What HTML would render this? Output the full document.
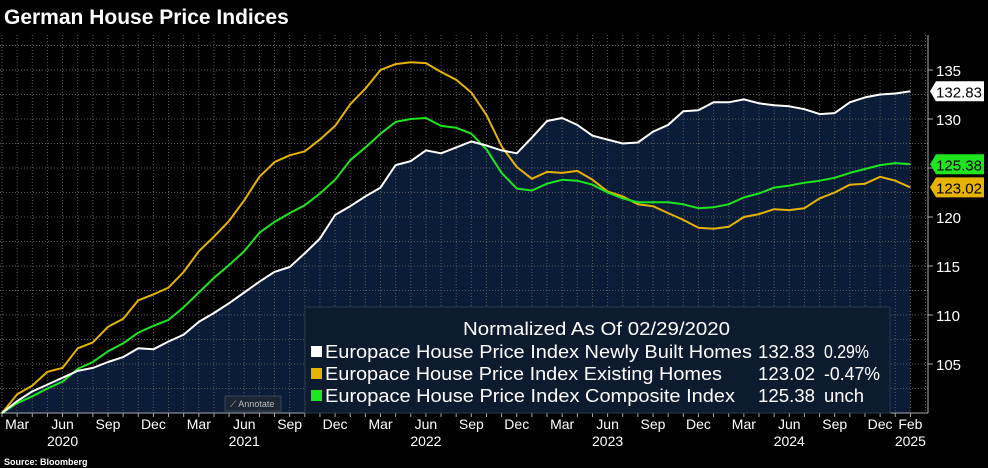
<!DOCTYPE html>
<html><head><meta charset="utf-8"><style>
body{margin:0;background:#000;width:988px;height:468px;overflow:hidden;font-family:"Liberation Sans",sans-serif}
svg{display:block}
</style></head><body>
<svg width="988" height="468" id="c">
<text x="4" y="24" fill="#fff" font-size="21" font-weight="bold">German House Price Indices</text>
<text x="4" y="465" fill="#fff" font-size="9" font-weight="bold">Source: Bloomberg</text>
</svg>
<script>
const months=["Mar","Jun","Sep","Dec","Mar","Jun","Sep","Dec","Mar","Jun","Sep","Dec","Mar","Jun","Sep","Dec","Mar","Jun","Sep","Dec","Feb"];
const monthIdx=[1,4,7,10,13,16,19,22,25,28,31,34,37,40,43,46,49,52,55,58,60];
const years=["2020","2021","2022","2023","2024","2025"];
const yearIdx=[4,16,28,40,52,60];
const yTicks=[105,110,115,120,125,130,135];
const newlyBuilt=[100,101.2,102.2,102.9,103.6,104.3,104.6,105.2,105.7,106.6,106.5,107.3,108.0,109.3,110.2,111.2,112.3,113.4,114.4,114.9,116.3,117.8,120.2,121.1,122.1,123.0,125.3,125.7,126.8,126.5,127.1,127.7,127.3,126.8,126.5,128.1,129.8,130.1,129.4,128.3,127.9,127.5,127.6,128.7,129.4,130.8,130.9,131.7,131.7,132.0,131.6,131.4,131.3,131.0,130.5,130.6,131.7,132.2,132.5,132.6,132.83];
const existing=[100,101.9,102.8,104.2,104.6,106.6,107.2,108.8,109.6,111.5,112.1,112.8,114.4,116.5,118.0,119.6,121.7,124.1,125.6,126.3,126.7,127.9,129.3,131.5,133.1,135.0,135.6,135.8,135.7,134.8,134.0,132.7,130.4,127.2,125.1,123.9,124.6,124.5,124.7,123.8,122.6,122.1,121.3,121.1,120.4,119.7,118.9,118.8,119.0,120.0,120.3,120.8,120.7,120.9,121.9,122.5,123.3,123.4,124.1,123.7,123.02];
const composite=[100,101.0,101.7,102.5,103.2,104.5,105.2,106.3,107.1,108.2,108.9,109.5,110.8,112.3,113.8,115.1,116.5,118.4,119.5,120.4,121.2,122.4,123.8,125.8,127.1,128.5,129.7,130.0,130.1,129.3,129.1,128.5,126.9,124.5,122.9,122.7,123.4,123.8,123.7,123.3,122.5,121.9,121.5,121.5,121.5,121.3,120.9,121.0,121.3,122.0,122.4,123.0,123.2,123.5,123.7,124.0,124.5,124.9,125.3,125.5,125.38];
const NS="http://www.w3.org/2000/svg";
const svg=document.getElementById('c');
const X=i=>2+i*15.14;
const Y=v=>413-(v-100)*9.8;
function mk(t,a,p){const e=document.createElementNS(NS,t);for(const k in a)e.setAttribute(k,a[k]);(p||svg).appendChild(e);return e;}
let d="M"+X(0)+","+413;newlyBuilt.forEach((v,i)=>d+="L"+X(i)+","+Y(v));d+="L"+X(60)+",413Z";
const area=mk('path',{d:d,fill:'#0a1c38'});


for(let i=0;i<=61;i++){const g=mk('line',{x1:X(i),x2:X(i),y1:35,y2:413,stroke:'#5a5a5a','stroke-width':1,'stroke-dasharray':'1,2'});

}
for(let v=100;v<=137.5;v+=2.5){const g=mk('line',{x1:0,x2:928,y1:Y(v),y2:Y(v),stroke:'#5a5a5a','stroke-width':1,'stroke-dasharray':'1,2'});

}
const ax=mk('line',{x1:928,x2:928,y1:35,y2:413,stroke:'#aaa'});


const bx=mk('line',{x1:0,x2:928,y1:413,y2:413,stroke:'#aaa'});


yTicks.forEach(v=>{mk('line',{x1:928,x2:933,y1:Y(v),y2:Y(v),stroke:'#aaa'});
const t=mk('text',{x:936,y:Y(v)+6,fill:'#fff','font-size':15});t.textContent=v;

});
for(let i=0;i<=60;i++)mk('line',{x1:X(i),x2:X(i),y1:413,y2:417,stroke:'#aaa'});
months.forEach((m,k)=>{const t=mk('text',{x:X(monthIdx[k]),y:429,fill:'#fff','font-size':14,'text-anchor':'middle'});t.textContent=m;

});
years.forEach((y,k)=>{const t=mk('text',{x:X(yearIdx[k]),y:446,fill:'#fff','font-size':14,'text-anchor':'middle'});t.textContent=y;

});
const lb=mk('rect',{x:305,y:307,width:585,height:106,fill:'#0d1b2e',stroke:'#2a3a50'});


const an=mk('rect',{x:225,y:396,width:56,height:15,fill:'#1c2533',stroke:'#3a4556'});


const at=mk('text',{x:230,y:407,fill:'#bbb','font-size':9});at.textContent='⟋ Annotate';


function line(arr,col,name){let p="";arr.forEach((v,i)=>p+=(i?"L":"M")+X(i).toFixed(1)+","+Y(v).toFixed(1));
const e=mk('path',{d:p,fill:'none',stroke:col,'stroke-width':2,'stroke-linejoin':'round'});

}
line(existing,'#e6b400','existing-homes-line');
line(composite,'#1ee61e','composite-index-line');
line(newlyBuilt,'#ffffff','newly-built-line');
function tag(v,bg,name){const y=Y(v);const g=mk('g',{});


mk('path',{d:`M930,${y}L936,${y-10}L984,${y-10}L984,${y+10}L936,${y+10}Z`,fill:bg},g);
const t=mk('text',{x:959,y:y+6,fill:'#000','font-size':15,'text-anchor':'middle'},g);t.textContent=v.toFixed(2);}
tag(newlyBuilt[60],'#ffffff','newly-built-value-tag');
tag(composite[60],'#1ee61e','composite-value-tag');
tag(existing[60],'#e6b400','existing-value-tag');
const lt=mk('text',{x:463,y:335,fill:'#fff','font-size':18,textLength:267,lengthAdjust:'spacingAndGlyphs'});lt.textContent='Normalized As Of 02/29/2020';


const L=[["#ffffff","Europace House Price Index Newly Built Homes","132.83","0.29%",427,45],["#e6b400","Europace House Price Index Existing Homes","123.02","-0.47%",397,56],["#1ee61e","Europace House Price Index Composite Index","125.38","unch",410,40]];
L.forEach((r,k)=>{const y=358+k*22;
const s=mk('rect',{x:311,y:y-12,width:11,height:11,fill:r[0]});


const t=mk('text',{x:325,y:y,fill:'#fff','font-size':18,textLength:r[4],lengthAdjust:'spacingAndGlyphs'});t.textContent=r[1];


const v=mk('text',{x:758,y:y,fill:'#fff','font-size':18,textLength:57,lengthAdjust:'spacingAndGlyphs'});v.textContent=r[2];


const c=mk('text',{x:824,y:y,fill:'#fff','font-size':18,textLength:r[5],lengthAdjust:'spacingAndGlyphs'});c.textContent=r[3];

});
</script>
</body></html>
